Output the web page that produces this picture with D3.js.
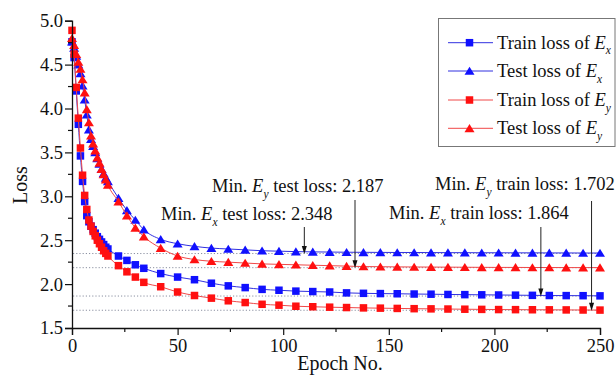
<!DOCTYPE html>
<html>
<head>
<meta charset="utf-8">
<script src="https://cdn.jsdelivr.net/npm/d3@7"></script>
<style>
  body { margin: 0; background: #fff; }
  svg text { font-family: "Liberation Serif", "Times New Roman", serif; fill: #111; }
</style>
</head>
<body>
<div id="chart"></div>
<script>
// epochs where a marker is drawn
var epochs = [0,1,2,3,4,5,6,7,8,9,10,11,12,13,14,15,16,17,22,26,30,34,
  42,50,58,66,74,82,90,98,106,114,122,130,138,146,154,162,170,178,186,194,202,210,218,226,234,242,250];

var trainEx = [4.76,4.58,4.20,3.82,3.46,3.17,2.94,2.78,2.71,2.66,2.62,2.58,2.54,2.51,2.48,2.45,2.42,2.40,2.32,2.27,2.22,2.18,
  2.12,2.08,2.05,2.01,1.98,1.96,1.94,1.93,1.92,1.915,1.91,1.90,1.895,1.892,1.89,1.887,1.885,1.882,1.88,1.878,1.876,1.874,1.872,1.87,1.869,1.868,1.866];
var testEx = [4.76,4.69,4.60,4.50,4.40,4.26,4.10,3.93,3.76,3.65,3.57,3.50,3.43,3.37,3.31,3.26,3.21,3.17,2.98,2.84,2.73,2.62,
  2.51,2.46,2.43,2.41,2.40,2.39,2.38,2.375,2.37,2.367,2.365,2.363,2.362,2.361,2.36,2.36,2.359,2.358,2.358,2.357,2.357,2.356,2.356,2.355,2.355,2.354,2.354];
var trainEy = [4.89,4.62,4.24,3.89,3.55,3.24,3.01,2.85,2.73,2.66,2.60,2.55,2.50,2.46,2.42,2.38,2.35,2.32,2.21,2.14,2.08,2.02,
  1.97,1.91,1.87,1.84,1.81,1.79,1.77,1.76,1.748,1.742,1.737,1.733,1.729,1.726,1.723,1.72,1.718,1.716,1.714,1.712,1.71,1.709,1.708,1.707,1.706,1.705,1.704];
var testEy = [4.80,4.72,4.62,4.53,4.45,4.33,4.18,3.99,3.84,3.69,3.60,3.52,3.44,3.38,3.31,3.25,3.19,3.13,2.94,2.78,2.64,2.54,
  2.41,2.32,2.28,2.26,2.25,2.24,2.23,2.225,2.22,2.215,2.21,2.205,2.20,2.198,2.196,2.195,2.194,2.193,2.192,2.191,2.19,2.19,2.189,2.189,2.188,2.188,2.188];

var xTicks = [0,50,100,150,200,250];
var yTicks = [1.5,2.0,2.5,3.0,3.5,4.0,4.5,5.0];

// minimum annotations: which field, value, epoch of the arrow
var minima = [
  {sub: "y", what: "test",  value: 2.187, epoch: 134},
  {sub: "x", what: "test",  value: 2.348, epoch: 110},
  {sub: "y", what: "train", value: 1.702, epoch: 246},
  {sub: "x", what: "train", value: 1.864, epoch: 222}
];
// text placement for each annotation (same order)
var minLayout = [
  {tx: 212, ty: 192, top: 200},
  {tx: 161, ty: 220, top: 227},
  {tx: 435, ty: 190, top: 201},
  {tx: 389, ty: 219, top: 227}
];

var series = [
  {name: "Train loss of ", sub: "x", values: trainEx, color: "#1010ff", line: "#3030e0", shape: "square"},
  {name: "Test loss of ",  sub: "x", values: testEx,  color: "#1010ff", line: "#3030e0", shape: "triangle"},
  {name: "Train loss of ", sub: "y", values: trainEy, color: "#ff1010", line: "#f04848", shape: "square"},
  {name: "Test loss of ",  sub: "y", values: testEy,  color: "#ff1010", line: "#f04848", shape: "triangle"}
];

var W = 616, H = 376;
var svg = d3.select("#chart").append("svg").attr("width", W).attr("height", H);

var x = d3.scaleLinear().domain([0, 250]).range([72, 600]);
var y = d3.scaleLinear().domain([1.5, 5.0]).range([328, 20.7]);

// marker path, centred on 0,0
function markerPath(shape, s) {
  if (shape === "square") {
    return "M" + (-s/2) + "," + (-s/2) + "h" + s + "v" + s + "h" + (-s) + "Z";
  }
  var h = s * 0.85;
  return "M0," + (-h/2 - 0.5) + "L" + (s/2 + 0.5) + "," + (h/2) + "L" + (-s/2 - 0.5) + "," + (h/2) + "Z";
}

// dotted guide lines at minima
svg.append("g").selectAll("line").data(minima).enter().append("line")
  .attr("x1", x(0) + 1).attr("x2", x(250))
  .attr("y1", function(d){ return y(d.value); })
  .attr("y2", function(d){ return y(d.value); })
  .attr("stroke", "#8a8fa0").attr("stroke-width", 1)
  .attr("stroke-dasharray", "1.2,2");

// series
var line = d3.line()
  .x(function(d, i){ return x(epochs[i]); })
  .y(function(d){ return y(d); })
  .curve(d3.curveMonotoneX);

series.forEach(function(s){
  var g = svg.append("g");
  g.append("path").datum(s.values)
    .attr("d", line).attr("fill", "none")
    .attr("stroke", s.line).attr("stroke-width", 1);
  g.selectAll("path.m").data(s.values).enter().append("path")
    .attr("class", "m")
    .attr("d", markerPath(s.shape, s.shape === "square" ? 7.5 : 9))
    .attr("transform", function(d, i){ return "translate(" + x(epochs[i]) + "," + y(d) + ")"; })
    .attr("fill", s.color);
});

// axes
var yAxis = d3.axisLeft(y).tickValues(yTicks).tickSize(7).tickPadding(2)
  .tickFormat(d3.format(".1f"));
var gy = svg.append("g").attr("transform", "translate(" + x(0) + ",0)").call(yAxis);
var xAxis = d3.axisBottom(x).tickValues(xTicks).tickSize(7).tickPadding(4);
var gx = svg.append("g").attr("transform", "translate(0," + y(1.5) + ")").call(xAxis);

[gx, gy].forEach(function(g){
  g.select(".domain").attr("stroke", "#111").attr("stroke-width", 1.3);
  g.selectAll(".tick line").attr("stroke", "#111").attr("stroke-width", 1.2);
  g.selectAll("text").style("font-size", "18.5px").attr("fill", "#111");
});

// minor ticks
var yMinor = [1.75, 2.25, 2.75, 3.25, 3.75, 4.25, 4.75];
svg.append("g").selectAll("line").data(yMinor).enter().append("line")
  .attr("x1", x(0) - 4).attr("x2", x(0))
  .attr("y1", function(d){ return y(d); }).attr("y2", function(d){ return y(d); })
  .attr("stroke", "#111").attr("stroke-width", 1.2);
var xMinor = [25, 75, 125, 175, 225];
svg.append("g").selectAll("line").data(xMinor).enter().append("line")
  .attr("x1", function(d){ return x(d); }).attr("x2", function(d){ return x(d); })
  .attr("y1", y(1.5)).attr("y2", y(1.5) + 4)
  .attr("stroke", "#111").attr("stroke-width", 1.2);

// axis titles
svg.append("text").attr("transform", "translate(27,185) rotate(-90)")
  .attr("text-anchor", "middle").style("font-size", "20px").text("Loss");
svg.append("text").attr("x", 340).attr("y", 370)
  .attr("text-anchor", "middle").style("font-size", "20px").text("Epoch No.");

// label with italic E and subscript
function eLabel(sel, before, sub, after, size) {
  sel.append("tspan").text(before);
  sel.append("tspan").style("font-style", "italic").text("E");
  sel.append("tspan").attr("dy", size * 0.3).style("font-style", "italic")
    .style("font-size", (size * 0.62) + "px").text(sub);
  sel.append("tspan").attr("dy", -size * 0.3).text(after);
}

// annotations
minima.forEach(function(m, i){
  var L = minLayout[i];
  var t = svg.append("text").attr("x", L.tx).attr("y", L.ty).style("font-size", "18.5px");
  eLabel(t, "Min. ", m.sub, " " + m.what + " loss: " + d3.format(".3f")(m.value), 18.5);
  var ax = x(m.epoch), ay = y(m.value);
  svg.append("line").attr("x1", ax).attr("x2", ax).attr("y1", L.top).attr("y2", ay - 6)
    .attr("stroke", "#222").attr("stroke-width", 1);
  svg.append("path")
    .attr("d", "M" + ax + "," + (ay + 0.5) + "l-2.5,-8l5,0Z")
    .attr("fill", "#111");
});

// legend
var lg = svg.append("g");
lg.append("rect").attr("x", 438.5).attr("y", 18.5).attr("width", 176.5).attr("height", 128)
  .attr("fill", "#fff").attr("stroke", "#777").attr("stroke-width", 1);
var rowY = [42.7, 71, 100, 128.3];
series.forEach(function(s, i){
  var ry = rowY[i];
  lg.append("line").attr("x1", 448).attr("x2", 493).attr("y1", ry).attr("y2", ry)
    .attr("stroke", s.line).attr("stroke-width", 1);
  lg.append("path").attr("d", markerPath(s.shape, s.shape === "square" ? 7.5 : 9))
    .attr("transform", "translate(469.5," + ry + ")").attr("fill", s.color);
  var t = lg.append("text").attr("x", 497).attr("y", ry + 6).style("font-size", "18.5px");
  eLabel(t, s.name, s.sub, "", 18.5);
});
</script>
</body>
</html>
